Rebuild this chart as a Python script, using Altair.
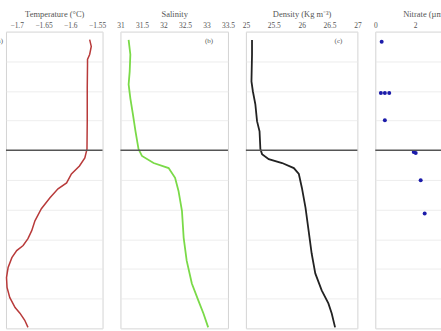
import altair as alt
import pandas as pd

# ---- data ----
temp_depth = [2.7, 5.0, 7.7, 9.4, 11.1, 19.1, 30.2, 39.6, 42.6, 45.3, 48.0, 51.0, 53.0, 56.0,
              59.7, 63.8, 67.1, 69.8, 72.1, 73.8, 76.2, 79.5, 82.9, 86.2, 89.6, 93.0, 94.9, 97.3, 99.7]
temp = [-1.564, -1.561, -1.564, -1.568, -1.568, -1.5685, -1.5685, -1.569, -1.573, -1.583, -1.598,
        -1.607, -1.623, -1.638, -1.654, -1.666, -1.672, -1.679, -1.688, -1.700, -1.709, -1.716,
        -1.719, -1.718, -1.713, -1.703, -1.694, -1.685, -1.679]

sal_depth = [2.8, 7.7, 13.4, 17.8, 22.5, 27.9, 33.6, 39.6, 41.9, 44.3, 46.0, 49.3, 53.7, 60.4,
             69.5, 77.2, 84.9, 90.6, 95.0, 99.7]
sal = [31.19, 31.23, 31.215, 31.19, 31.23, 31.29, 31.35, 31.42, 31.50, 31.77, 32.12, 32.27,
       32.35, 32.43, 32.47, 32.54, 32.66, 32.81, 32.93, 33.04]

dens_depth = [2.8, 7.7, 16.8, 20.1, 24.5, 30.2, 33.6, 39.6, 41.3, 43.0, 44.3, 46.0, 48.0, 52.7,
              59.4, 67.1, 74.8, 81.5, 87.2, 91.6, 95.0, 99.7]
dens = [25.11, 25.11, 25.10, 25.125, 25.17, 25.20, 25.245, 25.26, 25.29, 25.41, 25.65, 25.86,
        25.95, 26.005, 26.07, 26.125, 26.18, 26.245, 26.36, 26.48, 26.54, 26.60]

nit_depth = [3.4, 20.7, 20.7, 20.7, 29.9, 40.6, 40.9, 50.1, 61.3]
nit = [0.32, 0.28, 0.48, 0.70, 0.48, 1.93, 2.03, 2.28, 2.48]

mld = [40]

titles = ["Temperature (°C)", "Salinity", "Density (Kg m⁻³)", "Nitrate (µmol/L)"]
panel_labels = ["(a)", "(b)", "(c)", ""]
x_domains = [[-1.72, -1.54], [31, 33.5], [25, 27], [0, 5.6]]
x_ticks = [[-1.7, -1.65, -1.6, -1.55], [31, 31.5, 32, 32.5, 33, 33.5], [25, 25.5, 26, 26.5, 27], [0, 2]]
widths = [97, 108, 112, 112]
H = 298

FONT = "Liberation Serif"
TXT = "#555555"

yscale = alt.Scale(domain=[0, 100], reverse=True, nice=False)
yaxis = alt.Axis(labels=False, ticks=False, domain=False, grid=True, title=None,
                 values=list(range(0, 101, 10)), gridColor="#e8e8e8", gridWidth=0.8)


def xaxis(i):
    return alt.Axis(orient="top", values=x_ticks[i], format="~g", grid=False, domain=False, ticks=False,
                    labelPadding=2, labelFontSize=7.5, labelFont=FONT, labelColor=TXT,
                    title=titles[i], titleFont=FONT, titleFontSize=8.5, titleFontWeight="normal",
                    titleColor=TXT, titlePadding=3, labelFlush=False)


def panel(i, df, mark):
    xs = alt.Scale(domain=x_domains[i], nice=False, zero=False)
    if mark == "point":
        main = alt.Chart(df).mark_circle(size=16, color="#1c1caa", opacity=1).encode(
            x=alt.X("v:Q", scale=xs, axis=xaxis(i)),
            y=alt.Y("depth:Q", scale=yscale, axis=yaxis),
        )
    else:
        color, sw = mark
        main = alt.Chart(df).mark_line(color=color, strokeWidth=sw).encode(
            x=alt.X("v:Q", scale=xs, axis=xaxis(i)),
            y=alt.Y("depth:Q", scale=yscale, axis=yaxis),
            order="depth:Q",
        )
    rule = alt.Chart(pd.DataFrame({"depth": mld})).mark_rule(color="#555", strokeWidth=1.6).encode(
        y=alt.Y("depth:Q", scale=yscale, axis=yaxis))
    layers = [main, rule]
    if panel_labels[i]:
        if i == 0:
            lbl = alt.Chart(pd.DataFrame({"t": [panel_labels[i]]})).mark_text(
                font=FONT, fontSize=7, color=TXT, align="right", baseline="middle").encode(
                x=alt.value(-3), y=alt.value(9), text="t:N")
        else:
            lbl = alt.Chart(pd.DataFrame({"t": [panel_labels[i]]})).mark_text(
                font=FONT, fontSize=7, color=TXT, align="center", baseline="middle").encode(
                x=alt.value(widths[i] - 19), y=alt.value(9), text="t:N")
        layers.append(lbl)
    return alt.layer(*layers).properties(width=widths[i], height=H)


p1 = panel(0, pd.DataFrame({"depth": temp_depth, "v": temp}), ("#b83a3a", 1.5))
p2 = panel(1, pd.DataFrame({"depth": sal_depth, "v": sal}), ("#7ada48", 1.8))
p3 = panel(2, pd.DataFrame({"depth": dens_depth, "v": dens}), ("#222222", 1.8))
p4 = panel(3, pd.DataFrame({"depth": nit_depth, "v": nit}), "point")

chart = alt.hconcat(p1, p2, p3, p4, spacing=18, bounds="flush").properties(
    padding={"left": -6, "top": 8, "right": -48, "bottom": 2},
    background="white",
).configure_view(stroke="#d4d4d4", strokeWidth=1)

chart.save("out.html", embed_options={"renderer": "svg", "actions": False})
